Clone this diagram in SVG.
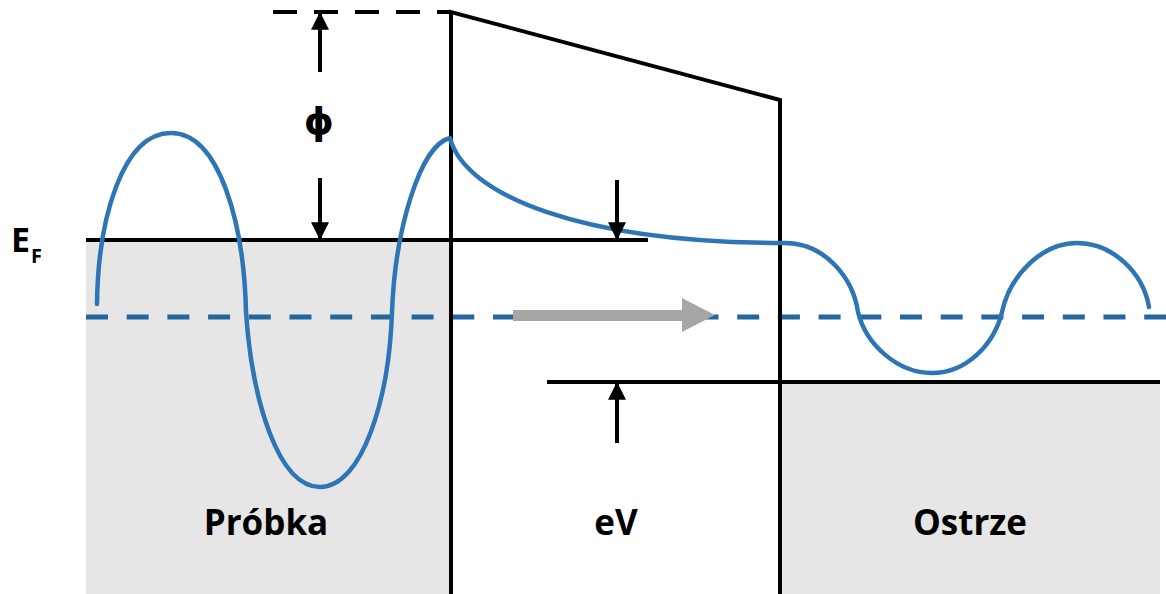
<svg xmlns="http://www.w3.org/2000/svg" width="1166" height="594" viewBox="0 0 1166 594">
  <style>
    .blk { stroke: #000; stroke-width: 4; fill: none; }
    .fill { fill: #e7e6e6; stroke: none; }
    .wave { stroke: #2E75B6; stroke-width: 4.5; fill: none; stroke-linecap: round; stroke-linejoin: round; }
    .dash { stroke: #23679f; stroke-width: 5; fill: none; stroke-dasharray: 22 18.7; }
    .lbl { font-family: "Open Sans", "Liberation Sans", sans-serif; font-weight: 700; fill: #000; }
  </style>
  <defs>
    <marker id="ah" markerUnits="userSpaceOnUse" markerWidth="18" markerHeight="18" viewBox="0 0 16 16" refX="14" refY="8" orient="auto">
      <path d="M0,0 L16,8 L0,16 Z" fill="#000"/>
    </marker>
  </defs>

  <g id="regions">
    <rect class="fill" x="86" y="240" width="365" height="354"/>
    <rect class="fill" x="780" y="382" width="380" height="212"/>
  </g>

  <g id="levels">
    <line class="dash" x1="86" y1="317" x2="1166" y2="317"/>
    <line class="blk" x1="273" y1="12" x2="451" y2="12" stroke-dasharray="24 17"/>
    <line class="blk" x1="86" y1="240" x2="648" y2="240"/>
    <line class="blk" x1="547" y1="382" x2="1160" y2="382"/>
    <path class="blk" d="M451,594 L451,12 L780,100 L780,594" stroke-linejoin="miter"/>
  </g>

  <g id="wave">
    <path class="wave" d="M97,304 C98,220 122,133 171,133 C220,133 244,225 246,312 C252,400 278,487 320,487 C362,487 389,400 392,312 C395,230 420,145 450,138 C465,195 580,243 785,243 C825,243 853,278 858,312 C866,345 898,373 932,373 C966,373 994,345 1002,312 C1010,275 1042,243 1077,243 C1112,243 1143,272 1149,307"/>
  </g>

  <g id="connectors">
    <line class="blk" x1="320" y1="72" x2="320" y2="14" marker-end="url(#ah)"/>
    <line class="blk" x1="320" y1="178" x2="320" y2="238" marker-end="url(#ah)"/>
    <line class="blk" x1="617" y1="180" x2="617" y2="238" marker-end="url(#ah)"/>
    <line class="blk" x1="617" y1="443" x2="617" y2="384" marker-end="url(#ah)"/>
    <g id="tunnel-arrow" fill="#a6a6a6">
      <rect x="513" y="310" width="171" height="11"/>
      <path d="M682,298 L715,315 L682,332 Z"/>
    </g>
  </g>

  <g id="labels">
    <text class="lbl" x="11" y="252" font-size="34">E</text>
    <text class="lbl" x="31" y="263" font-size="20">F</text>
    <text x="319" y="134" font-family="DejaVu Sans, sans-serif" font-weight="700" font-size="38" text-anchor="middle">ϕ</text>
    <text class="lbl" x="266" y="535" font-size="35" text-anchor="middle">Próbka</text>
    <text class="lbl" x="616" y="535" font-size="35" text-anchor="middle">eV</text>
    <text class="lbl" x="970" y="535" font-size="35" text-anchor="middle">Ostrze</text>
  </g>
</svg>
